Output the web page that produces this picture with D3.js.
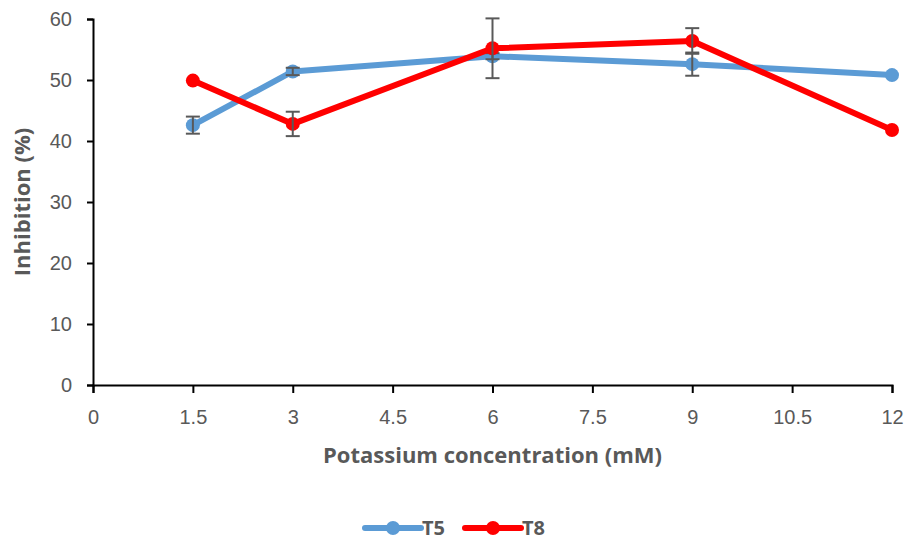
<!DOCTYPE html>
<html>
<head>
<meta charset="utf-8">
<script src="https://cdn.jsdelivr.net/npm/d3@7"></script>
<style>
  body { margin: 0; background: #fff; }
  svg { display: block; font-family: "Open Sans", "Liberation Sans", sans-serif; }
</style>
</head>
<body>
<svg id="vis" width="905" height="541"></svg>
<script>
// chart data
var concentrations = [1.5, 3, 6, 9, 12];
var xTicks = [0, 1.5, 3, 4.5, 6, 7.5, 9, 10.5, 12];
var yTicks = [0, 10, 20, 30, 40, 50, 60];

var seriesNames = ["T5", "T8"];
var seriesColors = ["#5B9BD5", "#FF0000"];
var t5Values = [42.6, 51.4, 53.9, 52.6, 50.8];
var t5Errors = [1.4, 0.6, 0.5, 1.9, 0];
var t8Values = [49.9, 42.8, 55.2, 56.4, 41.8];
var t8Errors = [0, 2.0, 4.9, 2.1, 0];

var _vis = d3.select("#vis");
var margin = { left: 93, right: 13, top: 19, bottom: 156 };
var _vis_width = 905, _vis_height = 541;

var xScale = d3.scaleLinear().domain([0, 12]).range([margin.left, _vis_width - margin.right]);
var yScale = d3.scaleLinear().domain([0, 60]).range([_vis_height - margin.bottom, margin.top]);

// y axis
var yAxis = _vis.append("g")
    .attr("transform", "translate(" + margin.left + ",0)")
    .call(d3.axisLeft(yScale).tickValues(yTicks).tickSize(6).tickPadding(15));
// x axis
var xAxis = _vis.append("g")
    .attr("transform", "translate(0," + yScale(0) + ")")
    .call(d3.axisBottom(xScale).tickValues(xTicks).tickSize(8).tickPadding(17)
        .tickFormat(function(d) { return String(d); }));

[xAxis, yAxis].forEach(function(ax) {
    ax.select(".domain").attr("stroke", "#000").attr("stroke-width", 2);
    ax.selectAll(".tick line").attr("stroke", "#000").attr("stroke-width", 2);
    ax.selectAll(".tick text").attr("fill", "#595959").style("font-size", "20px");
});

// axis titles
_vis.append("text")
    .attr("x", xScale(6))
    .attr("y", 463)
    .attr("text-anchor", "middle")
    .attr("fill", "#595959")
    .style("font-size", "22px").style("font-weight", "bold")
    .text("Potassium concentration (mM)");

_vis.append("text")
    .attr("transform", "translate(30," + yScale(30) + ") rotate(-90)")
    .attr("text-anchor", "middle")
    .attr("fill", "#595959")
    .style("font-size", "22px").style("font-weight", "bold")
    .text("Inhibition (%)");

var allSeries = [
    { name: seriesNames[0], color: seriesColors[0], values: t5Values, errors: t5Errors },
    { name: seriesNames[1], color: seriesColors[1], values: t8Values, errors: t8Errors }
];

var line = d3.line()
    .x(function(d) { return xScale(d[0]); })
    .y(function(d) { return yScale(d[1]); });

allSeries.forEach(function(s) {
    var pts = concentrations.map(function(c, i) { return [c, s.values[i], s.errors[i]]; });
    var g = _vis.append("g").attr("class", "series");

    g.append("path")
        .datum(pts)
        .attr("d", line)
        .attr("fill", "none")
        .attr("stroke", s.color)
        .attr("stroke-width", 6)
        .attr("stroke-linejoin", "round");

    g.selectAll("circle")
        .data(pts)
        .enter().append("circle")
        .attr("cx", function(d) { return xScale(d[0]); })
        .attr("cy", function(d) { return yScale(d[1]); })
        .attr("r", 7)
        .attr("fill", s.color);

    // error bars (only where an error was visible)
    var eb = g.selectAll("g.err")
        .data(pts.filter(function(d) { return d[2] > 0; }))
        .enter().append("g")
        .attr("class", "err")
        .attr("stroke", "#595959")
        .attr("stroke-width", 2);
    eb.append("line")
        .attr("x1", function(d) { return xScale(d[0]); })
        .attr("x2", function(d) { return xScale(d[0]); })
        .attr("y1", function(d) { return yScale(d[1] - d[2]); })
        .attr("y2", function(d) { return yScale(d[1] + d[2]); });
    [-1, 1].forEach(function(sign) {
        eb.append("line")
            .attr("x1", function(d) { return xScale(d[0]) - 7; })
            .attr("x2", function(d) { return xScale(d[0]) + 7; })
            .attr("y1", function(d) { return yScale(d[1] + sign * d[2]); })
            .attr("y2", function(d) { return yScale(d[1] + sign * d[2]); });
    });
});

// legend
var legend = _vis.append("g").attr("transform", "translate(365,528)");
allSeries.forEach(function(s, i) {
    var lg = legend.append("g").attr("transform", "translate(" + (i * 100) + ",0)");
    lg.append("line")
        .attr("x1", 0).attr("x2", 56).attr("y1", 0).attr("y2", 0)
        .attr("stroke", s.color).attr("stroke-width", 6).attr("stroke-linecap", "round");
    lg.append("circle").attr("cx", 28).attr("cy", 0).attr("r", 7).attr("fill", s.color);
    lg.append("text")
        .attr("x", 57).attr("y", 7)
        .attr("fill", "#595959")
        .style("font-size", "20px").style("font-weight", "bold")
        .text(s.name);
});
</script>
</body>
</html>
